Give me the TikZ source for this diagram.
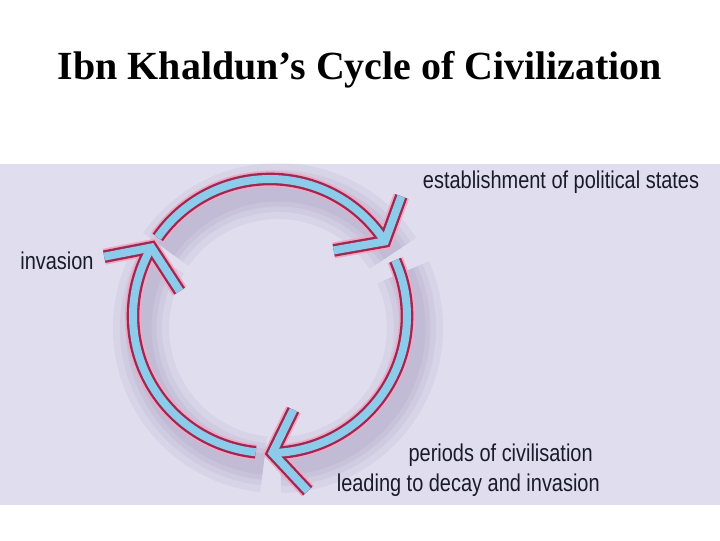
\documentclass[tikz,border=0pt]{standalone}
\usepackage{fontspec}
\setmainfont{Liberation Serif}
\newfontfamily\lblfont[FakeStretch=0.82]{Liberation Sans}
\usetikzlibrary{calc}
\definecolor{panel}{HTML}{E0DEEE}
\definecolor{ring}{HTML}{8CCBEA}
\definecolor{rim}{HTML}{A02850}
\definecolor{glow}{HTML}{F2A8C4}
\definecolor{shade}{HTML}{6E5E96}
\definecolor{ink}{HTML}{1A1A2C}

\begin{document}
\begin{tikzpicture}[x=0.025cm,y=0.025cm,
  lbl/.style={font=\lblfont\fontsize{17.3}{21}\selectfont, text=ink, inner sep=0pt},
  glowline/.style={draw=glow, line width=11.5pt},
  rimline/.style={draw=rim, line width=9pt},
  ringline/.style={draw=ring, line width=5.7pt},
  shadeline/.style={draw=shade, line width=#1, opacity=0.07}]
\useasboundingbox (0,0) rectangle (720,540);
\fill[panel] (0,35) rectangle (720,376);
\node[font=\bfseries\fontsize{28.4}{34}\selectfont] (title) at (360,470) {Ibn Khaldun’s Cycle of Civilization};
\coordinate (c) at (270,224);
\foreach \w in {40pt,30pt,22pt,15pt}
  \foreach \a/\b in {145/33, 24/-89, 264/150}
    \draw[shadeline=\w] ($(c)+(8,-12)+(\a:137)$) arc[start angle=\a, end angle=\b, radius=137];
\foreach \lay in {glowline,rimline,ringline}
  \foreach \a/\b/\p/\q/\n in {145/33/70/190/est, 24/-89/64/-47/dec, 264/150/191/303/inv} {
    \draw[\lay] ($(c)+(\a:137)$) arc[start angle=\a, end angle=\b, radius=137] coordinate (tip\n);
    \draw[\lay] ($(tip\n)+(\p:48)$) -- (tip\n) -- ($(tip\n)+(\q:52)$);
  }
\node[lbl] (est) at (561,358) {establishment of political states};
\node[lbl] (inv) at (57,279) {invasion};
\node[lbl, align=right, anchor=east] (dec) at (600,70) {periods of civilisation\hspace*{5pt}\\leading to decay and invasion};
\end{tikzpicture}
\end{document}
